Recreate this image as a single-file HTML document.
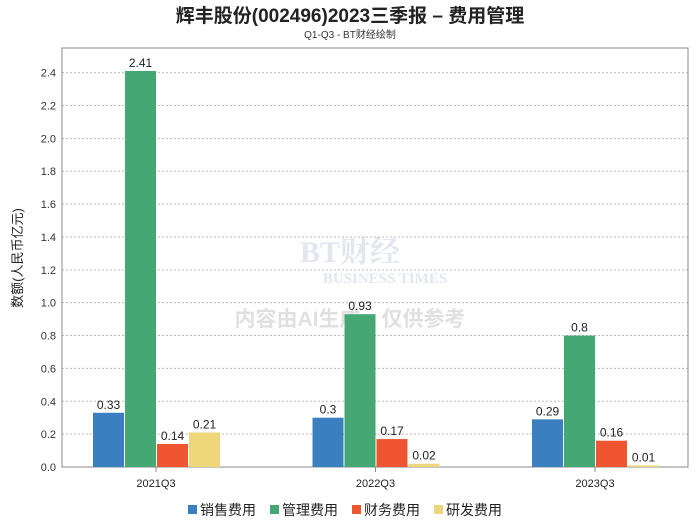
<!DOCTYPE html>
<html><head><meta charset="utf-8">
<style>
body{margin:0;background:#fff;width:700px;height:524px;overflow:hidden;font-family:"Liberation Sans","Noto Sans CJK SC",sans-serif;}
</style></head>
<body>
<svg id="c" width="700" height="524" xmlns="http://www.w3.org/2000/svg">
<text x="350" y="22" text-anchor="middle" font-size="19" font-weight="bold" fill="#222" font-family="Liberation Sans, Noto Sans CJK SC, sans-serif">辉丰股份(002496)2023三季报 – 费用管理</text>
<text x="350" y="38" text-anchor="middle" font-size="10" fill="#333" font-family="Liberation Sans, Noto Sans CJK SC, sans-serif">Q1-Q3 - BT财经绘制</text>
<g opacity="0.25">
<text x="350" y="262" text-anchor="middle" font-size="30" font-weight="bold" fill="#8aa0c0" font-family="Liberation Serif, Noto Serif CJK SC, serif">BT财经</text>
<text x="385" y="283" text-anchor="middle" font-size="15" font-weight="bold" fill="#8aa0c0" font-family="Liberation Serif, serif">BUSINESS TIMES</text>
<text x="350" y="326" text-anchor="middle" font-size="21" font-weight="bold" fill="#888" font-family="Liberation Sans, Noto Sans CJK SC, sans-serif">内容由AI生成，仅供参考</text>
</g>
</svg>
<script>
const categories=['2021Q3','2022Q3','2023Q3'];
const seriesNames=['销售费用','管理费用','财务费用','研发费用'];
const sales=[0.33,0.3,0.29];
const admin=[2.41,0.93,0.8];
const finance=[0.14,0.17,0.16];
const rnd=[0.21,0.02,0.01];
const yTicks=[0,0.2,0.4,0.6,0.8,1.0,1.2,1.4,1.6,1.8,2.0,2.2,2.4];
const colors=['#3a80c0','#45a874','#ee5530','#eed77a'];
const NS='http://www.w3.org/2000/svg';
const svg=document.getElementById('c');
const L=62,R=688,T=48,B=467,yMax=2.55;
const y=v=>B-(v/yMax)*(B-T);
const x=i=>156+i*219.5;
function el(t,a,p){const e=document.createElementNS(NS,t);for(const k in a)e.setAttribute(k,a[k]);(p||svg).appendChild(e);return e;}
const grid=el('g',{});


yTicks.forEach(v=>{
 if(v>0){const g=el('line',{x1:L,x2:R,y1:y(v),y2:y(v),stroke:'#bbb','stroke-dasharray':'2,2'},grid);}
 const t=el('text',{x:L-6,y:y(v)+4,'text-anchor':'end','font-size':11,fill:'#333'});
 
 
 t.textContent=v.toFixed(1);
});
const frame=el('rect',{x:L,y:T,width:R-L,height:B-T,fill:'none',stroke:'#888'});


const yt=el('text',{x:0,y:0,transform:'translate(22,258) rotate(-90)','text-anchor':'middle','font-size':13,fill:'#222'});


yt.textContent='数额(人民币亿元)';
const all=[sales,admin,finance,rnd];
const bw=31;
categories.forEach((c,i)=>{
 const tk=el('line',{x1:x(i),x2:x(i),y1:B,y2:B+5,stroke:'#888'});
 const lb=el('text',{x:x(i),y:B+20,'text-anchor':'middle','font-size':11,fill:'#222'});
 
 
 lb.textContent=c;
 all.forEach((s,j)=>{
  const bx=x(i)-63+j*32;
  const r=el('rect',{x:bx,y:y(s[i]),width:bw,height:B-y(s[i]),fill:colors[j]});
  
  
  const t=el('text',{x:bx+bw/2,y:y(s[i])-4,'text-anchor':'middle','font-size':12,fill:'#222'});
  
  
  t.textContent=String(s[i]);
 });
});
const lg=el('g',{});


seriesNames.forEach((n,j)=>{
 const lx=188+j*82;
 const sq=el('rect',{x:lx,y:505,width:9,height:9,fill:colors[j]},lg);
 
 
 const t=el('text',{x:lx+12,y:515,'font-size':14,fill:'#222'},lg);
 
 
 t.textContent=n;
});
</script>
</body></html>
